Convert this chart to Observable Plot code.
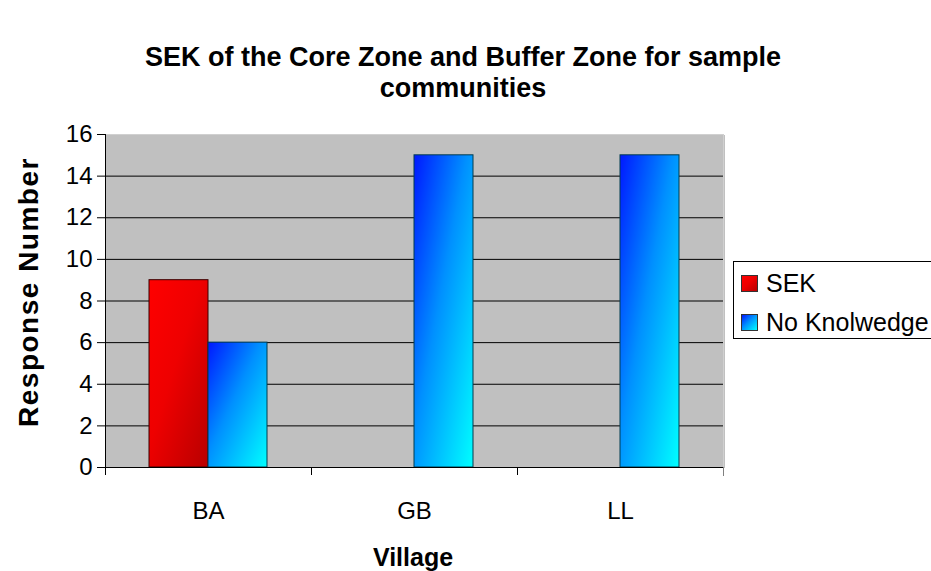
<!DOCTYPE html>
<html>
<head>
<meta charset="utf-8">
<script src="https://cdn.jsdelivr.net/npm/d3@7"></script>
<script src="https://cdn.jsdelivr.net/npm/@observablehq/plot@0.6"></script>
<style>
  html, body { margin: 0; padding: 0; background: #fff; }
  #wrap { position: relative; width: 931px; height: 571px; overflow: hidden; font-family: "Liberation Sans", Arial, sans-serif; color: #000; }
  #title { position: absolute; left: 0; width: 926px; top: 42px; text-align: center; font-weight: bold; font-size: 27px; line-height: 31px; }
  #ylabel { position: absolute; left: 29px; top: 292px; transform: translate(-50%, -50%) rotate(-90deg); white-space: nowrap; font-weight: bold; font-size: 28px; letter-spacing: 1.5px; }
  #xlabel { position: absolute; left: 413px; top: 557px; transform: translate(-50%, -50%); white-space: nowrap; font-weight: bold; font-size: 25px; }
  #legend { position: absolute; left: 733px; top: 261px; width: 230px; height: 76px; border: 1px solid #000; background: #fff; }
  .item { position: absolute; left: 7px; height: 30px; display: flex; align-items: center; font-size: 25px; white-space: nowrap; }
  .sw { width: 15px; height: 15px; border: 1px solid #333; margin-right: 8px; }
  #chart { position: absolute; left: 0; top: 0; }
</style>
</head>
<body>
<div id="wrap">
  <div id="chart"></div>
  <div id="title">SEK of the Core Zone and Buffer Zone for sample<br>communities</div>
  <div id="ylabel">Response Number</div>
  <div id="xlabel">Village</div>
  <div id="legend"></div>
</div>
<script>
// ---- data ----
const villages = ["BA", "GB", "LL"];
const seriesNames = ["SEK", "No Knolwedge"];
const sekValues = [9, 0, 0];
const noKnowledgeValues = [6, 15, 15];
const yTicks = [0, 2, 4, 6, 8, 10, 12, 14, 16];
const seriesGradients = ["gRed", "gBlue"];

const rows = villages.flatMap((v, i) => [
  {village: v, series: seriesNames[0], value: sekValues[i]},
  {village: v, series: seriesNames[1], value: noKnowledgeValues[i]}
]);

const gradStops = {
  gRed: [["0%", "#ff0000"], ["45%", "#ee0000"], ["100%", "#b80000"]],
  gBlue: [["0%", "#0018ff"], ["45%", "#0090ff"], ["100%", "#00ffff"]]
};

function defsMark() {
  const g = d3.create("svg:g");
  const defs = g.append("defs");
  for (const [id, stops] of Object.entries(gradStops)) {
    const lg = defs.append("linearGradient").attr("id", id)
      .attr("x1", 0).attr("y1", 0).attr("x2", 1).attr("y2", 1);
    for (const [o, c] of stops) lg.append("stop").attr("offset", o).attr("stop-color", c);
  }
  return g.node();
}

const chart = Plot.plot({
  width: 931,
  height: 571,
  marginLeft: 104,
  marginRight: 208,
  marginTop: 134,
  marginBottom: 104,
  style: {fontFamily: "Liberation Sans, Arial, sans-serif", background: "transparent", color: "#000"},
  fx: {domain: villages, padding: 0, label: null, round: true},
  x: {domain: seriesNames, paddingInner: 0, paddingOuter: 0.733, axis: null},
  y: {domain: [0, 16], label: null},
  marks: [
    defsMark,
    Plot.frame({fill: "#c0c0c0", stroke: null, insetRight: -1, shapeRendering: "crispEdges"}),
    Plot.ruleY(yTicks.filter(t => t > 0 && t < 16), {stroke: "#000", strokeWidth: 1}),
    Plot.ruleY([16], {stroke: "#d0d0d0"}),
    Plot.barY(rows.filter(d => d.series === seriesNames[0] && d.value > 0),
      {fx: "village", x: "series", y: "value", fill: "url(#gRed)", stroke: "#3a0000", strokeWidth: 1}),
    Plot.barY(rows.filter(d => d.series === seriesNames[1] && d.value > 0),
      {fx: "village", x: "series", y: "value", fill: "url(#gBlue)", stroke: "#003c50", strokeWidth: 1}),
    Plot.ruleY([0], {stroke: "#000"}),
    Plot.axisY({ticks: yTicks, tickSize: 8, tickPadding: 5, fontSize: 24, label: null}),
    Plot.axisFx({anchor: "bottom", tickSize: 0, tickPadding: 34, fontSize: 24, label: null})
  ]
});

document.getElementById("chart").appendChild(chart);

// decorative axis lines placed with the chart's own scales
const svg = d3.select(chart);
const fx = chart.scale("fx");
const y = chart.scale("y");
const y0 = y.apply(0), y16 = y.apply(16);
const xs = villages.map(v => fx.apply(v));
const xEnd = xs[xs.length - 1] + fx.bandwidth;
const deco = svg.append("g").attr("shape-rendering", "crispEdges");
// right edge of plot area
deco.append("line").attr("x1", xEnd).attr("x2", xEnd).attr("y1", y16).attr("y2", y0).attr("stroke", "#d0d0d0");
deco.append("line").attr("x1", xEnd).attr("x2", xEnd).attr("y1", y0).attr("y2", y0 + 9).attr("stroke", "#808080");
// category boundary ticks
xs.slice(1).forEach(x => deco.append("line").attr("x1", x).attr("x2", x).attr("y1", y0).attr("y2", y0 + 8).attr("stroke", "#000"));
// y axis line
deco.append("line").attr("x1", xs[0]).attr("x2", xs[0]).attr("y1", y16).attr("y2", y0 + 8).attr("stroke", "#000");

// legend
const legend = d3.select("#legend");
seriesNames.forEach((name, i) => {
  const it = legend.append("div").attr("class", "item").style("top", (6 + i * 39) + "px");
  const stops = gradStops[seriesGradients[i]].map(([o, c]) => c + " " + o).join(", ");
  it.append("div").attr("class", "sw").style("background", "linear-gradient(135deg, " + stops + ")");
  it.append("span").text(name);
});
</script>
</body>
</html>
